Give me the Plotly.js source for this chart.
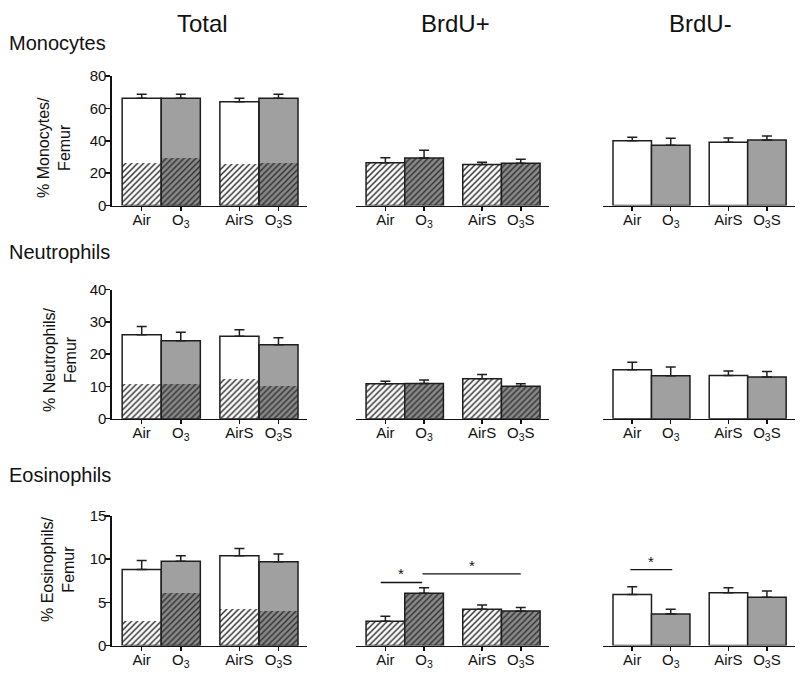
<!DOCTYPE html>
<html>
<head>
<meta charset="utf-8">
<script src="https://cdn.plot.ly/plotly-3.0.1.min.js"></script>
<style>html,body{margin:0;padding:0;background:#fff;}#chart{width:800px;height:676px;}</style>
</head>
<body>
<div id="chart"></div>
<script>
// ---- data ----
const groups = ['Air', 'O<sub>3</sub>', 'AirS', 'O<sub>3</sub>S'];
const columnTitles = ['Total', 'BrdU+', 'BrdU-'];
const rowTitles = ['Monocytes', 'Neutrophils', 'Eosinophils'];
const yTitles = ['% Monocytes/<br>Femur', '% Neutrophils/<br>Femur', '% Eosinophils/<br>Femur'];

const monoTotal = [66.2, 66.2, 64.1, 66.2];
const monoTotalErr = [2.5, 2.5, 2.1, 2.5];
const monoPos = [26.4, 29.3, 25.4, 26.1];
const monoPosErr = [3.1, 4.8, 1.3, 2.4];
const monoNeg = [40.0, 37.2, 39.0, 40.5];
const monoNegErr = [2.1, 4.3, 2.7, 2.4];

const neutTotal = [26.0, 24.2, 25.6, 22.9];
const neutTotalErr = [2.6, 2.6, 2.0, 2.2];
const neutPos = [10.8, 10.9, 12.4, 10.1];
const neutPosErr = [0.8, 1.1, 1.3, 0.7];
const neutNeg = [15.2, 13.3, 13.4, 12.9];
const neutNegErr = [2.3, 2.7, 1.4, 1.7];

const eosTotal = [8.8, 9.75, 10.4, 9.7];
const eosTotalErr = [1.05, 0.65, 0.85, 0.9];
const eosPos = [2.8, 6.05, 4.2, 4.0];
const eosPosErr = [0.6, 0.65, 0.5, 0.4];
const eosNeg = [5.9, 3.65, 6.1, 5.6];
const eosNegErr = [0.9, 0.55, 0.6, 0.7];

const yMax = [80, 40, 15];
const yStep = [20, 10, 5];

// ---- layout constants ----
const W = 800, H = 676;
const xPos = [0, 1, 2.5, 3.5];
const noErr = [0, 0, 0, 0];
const airIdx = [0, 2], o3Idx = [1, 3];
const colPx = [[112, 307], [356, 549], [603, 795]];
const rowPx = [[76, 205.5], [289.7, 418.7], [516, 645.5]]; // top, bottom
const xRange = [-0.76, 4.23];
const white = '#ffffff', gray = '#a0a0a0', hatchDark = '#8a8a8a', hatchFg = '#333333', edge = '#1e1e1e';
const solidFill = [white, gray, white, gray];
const FONT = 'Liberation Sans, Arial, Helvetica, sans-serif';

const rows = [
  {total: monoTotal, totalErr: monoTotalErr, pos: monoPos, posErr: monoPosErr, neg: monoNeg, negErr: monoNegErr},
  {total: neutTotal, totalErr: neutTotalErr, pos: neutPos, posErr: neutPosErr, neg: neutNeg, negErr: neutNegErr},
  {total: eosTotal, totalErr: eosTotalErr, pos: eosPos, posErr: eosPosErr, neg: eosNeg, negErr: eosNegErr}
];

const pick = (arr, idx) => idx.map(i => arr[i]);
function errObj(arr, minus) {
  return {type: 'data', symmetric: false, array: arr, arrayminus: minus, color: edge, thickness: 1.5, width: 5};
}
function hatchTraces(vals, errs, xa, ya, lineW) {
  const out = [];
  [[airIdx, white], [o3Idx, hatchDark]].forEach(([idx, bg]) => {
    const t = {type: 'bar', x: pick(xPos, idx), y: pick(vals, idx), width: 1, xaxis: xa, yaxis: ya,
      marker: {color: bg, pattern: {shape: '/', bgcolor: bg, fgcolor: hatchFg, size: 4.2, solidity: 0.36, fillmode: 'replace'},
        line: {width: lineW, color: edge}}, hoverinfo: 'skip'};
    if (errs) t.error_y = errObj(pick(errs, idx), pick(noErr, idx));
    out.push(t);
  });
  return out;
}

const traces = [];
const layout = {
  width: W, height: H,
  margin: {l: 0, r: 0, t: 0, b: 0},
  paper_bgcolor: '#fff', plot_bgcolor: 'rgba(0,0,0,0)',
  barmode: 'overlay', bargap: 0,
  showlegend: false,
  font: {family: FONT, color: '#111', size: 15},
  shapes: [], annotations: []
};

rows.forEach((rd, r) => {
  for (let c = 0; c < 3; c++) {
    const k = r * 3 + c + 1;
    const xa = 'x' + k, ya = 'y' + k;
    const xKey = 'xaxis' + (k === 1 ? '' : k), yKey = 'yaxis' + (k === 1 ? '' : k);
    layout[xKey] = {
      domain: [colPx[c][0] / W, colPx[c][1] / W], range: xRange, anchor: ya,
      showline: true, linecolor: '#111', linewidth: 1.6, mirror: false,
      ticks: 'outside', ticklen: 4, tickwidth: 1.5, tickcolor: '#111',
      ticklabelstandoff: -4,
      tickmode: 'array', tickvals: xPos, ticktext: groups,
      tickfont: {family: FONT, size: 15, color: '#111'},
      showgrid: false, zeroline: false, fixedrange: true
    };
    layout[yKey] = {
      domain: [1 - rowPx[r][1] / H, 1 - rowPx[r][0] / H], range: [0, yMax[r]], anchor: xa,
      showline: c === 0, linecolor: '#111', linewidth: 1.6,
      ticks: c === 0 ? 'outside' : '', ticklen: 5, tickwidth: 1.5, tickcolor: '#111',
      ticklabelstandoff: -4,
      showticklabels: c === 0, dtick: yStep[r], tick0: 0,
      tickfont: {family: FONT, size: 15, color: '#111'},
      showgrid: false, zeroline: false, fixedrange: true
    };
    if (c === 0) {
      traces.push({type: 'bar', x: xPos, y: rd.total, width: 1, xaxis: xa, yaxis: ya,
        marker: {color: solidFill, line: {width: 0}}, hoverinfo: 'skip'});
      hatchTraces(rd.pos, null, xa, ya, 0).forEach(t => traces.push(t));
      traces.push({type: 'bar', x: xPos, y: rd.total, width: 1, xaxis: xa, yaxis: ya,
        marker: {color: 'rgba(0,0,0,0)', line: {width: 1.5, color: edge}},
        error_y: errObj(rd.totalErr, noErr), hoverinfo: 'skip'});
    } else if (c === 1) {
      hatchTraces(rd.pos, rd.posErr, xa, ya, 1.5).forEach(t => traces.push(t));
    } else {
      traces.push({type: 'bar', x: xPos, y: rd.neg, width: 1, xaxis: xa, yaxis: ya,
        marker: {color: solidFill, line: {width: 1.5, color: edge}},
        error_y: errObj(rd.negErr, noErr), hoverinfo: 'skip'});
    }
  }
});

// column titles
const colTitleX = [203, 455, 700];
columnTitles.forEach((t, i) => {
  layout.annotations.push({text: t, xref: 'paper', yref: 'paper', x: colTitleX[i] / W, y: 1 - 23 / H,
    xanchor: 'center', yanchor: 'middle', showarrow: false, font: {family: FONT, size: 24, color: '#111'}});
});
// row titles
const rowTitleY = [43, 252, 475];
rowTitles.forEach((t, i) => {
  layout.annotations.push({text: t, xref: 'paper', yref: 'paper', x: 7 / W, y: 1 - rowTitleY[i] / H,
    xanchor: 'left', yanchor: 'middle', showarrow: false, font: {family: FONT, size: 20, color: '#111'}});
});
// y titles
const yTitleX = [54, 60, 58];
const yTitleY = [148, 360, 569];
yTitles.forEach((t, i) => {
  layout.annotations.push({text: t, xref: 'paper', yref: 'paper', x: yTitleX[i] / W, y: 1 - yTitleY[i] / H,
    xanchor: 'center', yanchor: 'middle', textangle: -90, showarrow: false,
    font: {family: FONT, size: 16, color: '#111'}});
});

// significance markers (eosinophils)
const sig = [
  {ax: '8', x0: -0.12, x1: 0.95, y: 7.3},
  {ax: '8', x0: 0.96, x1: 3.5, y: 8.3},
  {ax: '9', x0: -0.05, x1: 1.04, y: 8.8}
];
sig.forEach(s => {
  layout.shapes.push({type: 'line', xref: 'x' + s.ax, yref: 'y' + s.ax, x0: s.x0, x1: s.x1, y0: s.y, y1: s.y,
    line: {color: '#111', width: 1.3}});
  layout.annotations.push({text: '*', xref: 'x' + s.ax, yref: 'y' + s.ax, x: (s.x0 + s.x1) / 2, y: s.y,
    xanchor: 'center', yanchor: 'bottom', yshift: -2, showarrow: false, font: {family: FONT, size: 15, color: '#111'}});
});

Plotly.newPlot('chart', traces, layout, {staticPlot: true, displayModeBar: false});
</script>
</body>
</html>
